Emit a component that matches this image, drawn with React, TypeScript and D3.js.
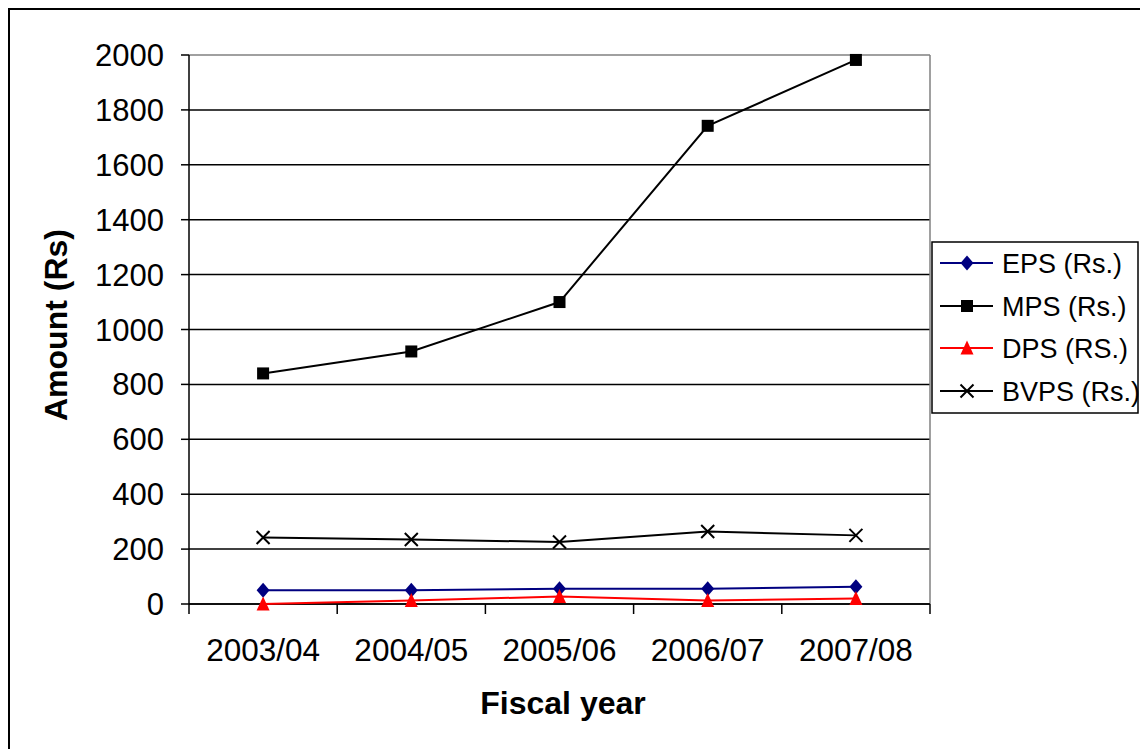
import React from "react";
import * as d3 from "d3";

const categories = ["2003/04", "2004/05", "2005/06", "2006/07", "2007/08"];
const epsValues = [50, 50, 56, 56, 63];
const mpsValues = [840, 920, 1100, 1742, 1982];
const dpsValues = [0, 13, 27, 13, 20];
const bvpsValues = [242, 235, 226, 264, 250];
const yTicks = [0, 200, 400, 600, 800, 1000, 1200, 1400, 1600, 1800, 2000];
const seriesNames = ["EPS (Rs.)", "MPS (Rs.)", "DPS (RS.)", "BVPS (Rs.)"];

const FONT = "'Liberation Sans', Arial, sans-serif";

type Series = { name: string; values: number[]; color: string; marker: string };

const series: Series[] = [
  { name: seriesNames[0], values: epsValues, color: "#000080", marker: "diamond" },
  { name: seriesNames[1], values: mpsValues, color: "#000000", marker: "square" },
  { name: seriesNames[2], values: dpsValues, color: "#ff0000", marker: "triangle" },
  { name: seriesNames[3], values: bvpsValues, color: "#000000", marker: "x" },
];

function Marker({ type, x, y, color }: { type: string; x: number; y: number; color: string }) {
  if (type === "diamond") {
    return <path d={`M${x},${y - 7.5}L${x + 6.5},${y}L${x},${y + 7.5}L${x - 6.5},${y}Z`} fill={color} />;
  }
  if (type === "square") {
    return <rect x={x - 6} y={y - 6} width={12} height={12} fill={color} />;
  }
  if (type === "triangle") {
    return <path d={`M${x},${y - 7.5}L${x + 6.5},${y + 6.5}L${x - 6.5},${y + 6.5}Z`} fill={color} />;
  }
  return (
    <path
      d={`M${x - 6.5},${y - 6.5}L${x + 6.5},${y + 6.5}M${x + 6.5},${y - 6.5}L${x - 6.5},${y + 6.5}`}
      stroke={color}
      strokeWidth={2}
      fill="none"
    />
  );
}

export default function App() {
  const left = 189;
  const right = 930;
  const top = 55;
  const bottom = 604;

  const x = d3.scaleBand<string>().domain(categories).range([left, right]);
  const y = d3.scaleLinear().domain([0, 2000]).range([bottom, top]);
  const cx = (c: string) => (x(c) as number) + x.bandwidth() / 2;

  const line = d3
    .line<number>()
    .x((_, i) => cx(categories[i]))
    .y((d) => y(d));

  const boundaries = [...categories.map((c) => x(c) as number), right];

  const legendX = 932;
  const legendY = 242;
  const legendRowY = [263, 306, 348, 391];

  return (
    <svg
      width={1140}
      height={749}
      style={{ position: "fixed", left: 0, top: 0, background: "#fff" }}
      fontFamily={FONT}
    >
      <rect x={0} y={0} width={1140} height={749} fill="#fff" />
      <rect x={9} y={9} width={1160} height={760} fill="none" stroke="#000" strokeWidth={2} />

      {/* gridlines */}
      {yTicks.slice(0, -1).map((t) => (
        <line key={t} x1={left} x2={right} y1={y(t)} y2={y(t)} stroke="#000" strokeWidth={1.5} />
      ))}
      {/* plot border top/right */}
      <line x1={left} x2={right} y1={top} y2={top} stroke="#808080" strokeWidth={1.5} />
      <line x1={right} x2={right} y1={top} y2={bottom} stroke="#808080" strokeWidth={1.5} />

      {/* y axis */}
      <line x1={left} x2={left} y1={top} y2={bottom} stroke="#000" strokeWidth={1.5} />
      {yTicks.map((t) => (
        <g key={t}>
          <line x1={left - 8} x2={left} y1={y(t)} y2={y(t)} stroke="#000" strokeWidth={1.5} />
          <text x={164} y={y(t) + 11} textAnchor="end" fontSize={31} fill="#000">
            {t}
          </text>
        </g>
      ))}

      {/* x axis */}
      <line x1={left} x2={right} y1={bottom} y2={bottom} stroke="#000" strokeWidth={1.5} />
      {boundaries.map((b, i) => (
        <line key={i} x1={b} x2={b} y1={bottom} y2={bottom + 10} stroke="#000" strokeWidth={1.5} />
      ))}
      {categories.map((c) => (
        <text key={c} x={cx(c)} y={661} textAnchor="middle" fontSize={31.5} fill="#000">
          {c}
        </text>
      ))}

      {/* axis titles */}
      <text x={563} y={714} textAnchor="middle" fontSize={32} fontWeight="bold" fill="#000">
        Fiscal year
      </text>
      <text
        transform={`translate(67,325) rotate(-90)`}
        textAnchor="middle"
        fontSize={32}
        fontWeight="bold"
        fill="#000"
      >
        Amount (Rs)
      </text>

      {/* series */}
      {series.map((s) => (
        <g key={s.name}>
          <path d={line(s.values) || ""} fill="none" stroke={s.color} strokeWidth={2} />
          {s.values.map((v, i) => (
            <Marker key={i} type={s.marker} x={cx(categories[i])} y={y(v)} color={s.color} />
          ))}
        </g>
      ))}

      {/* legend */}
      <rect x={legendX} y={legendY} width={206} height={171} fill="#fff" stroke="#000" strokeWidth={1.5} />
      {series.map((s, i) => (
        <g key={s.name}>
          <line x1={940} x2={993} y1={legendRowY[i]} y2={legendRowY[i]} stroke={s.color} strokeWidth={2} />
          <Marker type={s.marker} x={967} y={legendRowY[i]} color={s.color} />
          <text x={1002} y={legendRowY[i] + 9.5} fontSize={27} fill="#000">
            {s.name}
          </text>
        </g>
      ))}
    </svg>
  );
}
